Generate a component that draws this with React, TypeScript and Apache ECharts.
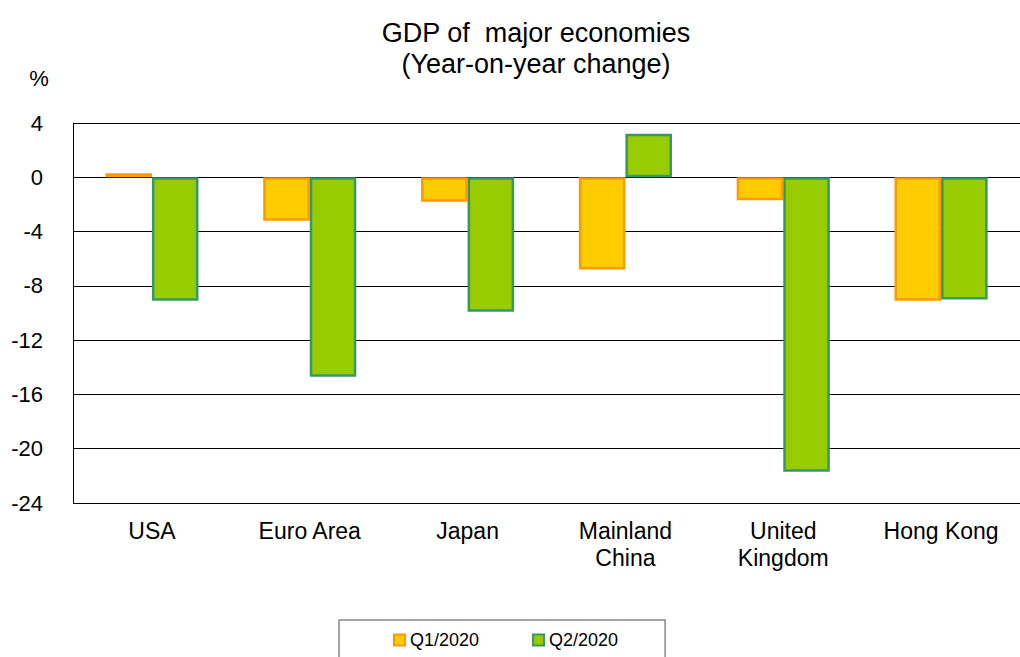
import React, { useEffect, useRef } from "react";
import * as echarts from "echarts";

const categories = ["USA", "Euro Area", "Japan", "Mainland\nChina", "United\nKingdom", "Hong Kong"];
const seriesNames = ["Q1/2020", "Q2/2020"];
const q1Values = [0.3, -3.2, -1.8, -6.8, -1.7, -9.1];
const q2Values = [-9.1, -14.7, -9.9, 3.2, -21.7, -9.0];
const titleLines = ["GDP of  major economies", "(Year-on-year change)"];
const unitLabel = "%";

const FONT = "'Liberation Sans', Arial, Helvetica, sans-serif";

export default function App() {
  const ref = useRef<HTMLDivElement>(null);
  useEffect(() => {
    if (!ref.current) return;
    const chart = echarts.init(ref.current, null, { renderer: "svg" });
    chart.setOption({
      animation: false,
      backgroundColor: "#ffffff",
      textStyle: { fontFamily: FONT },
      graphic: [
        {
          type: "text",
          x: 536,
          y: 17,
          style: {
            text: titleLines.join("\n"),
            font: `27px ${FONT}`,
            lineHeight: 31,
            fill: "#000",
            textAlign: "center",
            textVerticalAlign: "top",
          },
        },
        {
          type: "text",
          x: 39,
          y: 78,
          style: {
            text: unitLabel,
            font: `22px ${FONT}`,
            fill: "#000",
            textAlign: "center",
            textVerticalAlign: "middle",
          },
        },
      ],
      legend: {
        data: seriesNames,
        left: 339,
        top: 620,
        padding: [10, 47, 30, 54],
        borderColor: "#888888",
        borderWidth: 1.5,
        itemWidth: 11,
        itemHeight: 11,
        itemGap: 53,
        icon: "rect",
        textStyle: { fontSize: 18, lineHeight: 20, color: "#000", fontFamily: FONT },
      },
      grid: { left: 73, top: 123, bottom: 154, right: -6, containLabel: false },
      xAxis: {
        type: "category",
        data: categories,
        axisLine: { show: false, onZero: false },
        axisTick: { show: false },
        axisLabel: {
          fontSize: 23,
          lineHeight: 27,
          color: "#000",
          margin: 14,
          interval: 0,
          fontFamily: FONT,
        },
      },
      yAxis: {
        type: "value",
        min: -24,
        max: 4,
        interval: 4,
        axisLine: { show: true, lineStyle: { color: "#000", width: 1 } },
        axisTick: { show: false },
        splitLine: { show: true, lineStyle: { color: "#000", width: 1 } },
        axisLabel: { fontSize: 22, color: "#000", margin: 30, fontFamily: FONT },
      },
      series: [
        {
          name: seriesNames[0],
          type: "bar",
          data: q1Values,
          barGap: "0%",
          barCategoryGap: "41%",
          itemStyle: { color: "#FFCC00", borderColor: "#FF9900", borderWidth: 2.5 },
        },
        {
          name: seriesNames[1],
          type: "bar",
          data: q2Values,
          barGap: "0%",
          barCategoryGap: "41%",
          itemStyle: { color: "#99CC00", borderColor: "#339966", borderWidth: 2.5 },
        },
      ],
    });
    return () => chart.dispose();
  }, []);
  return (
    <div
      ref={ref}
      style={{ position: "fixed", left: 0, top: 0, width: 1020, height: 657, background: "#fff" }}
    />
  );
}
